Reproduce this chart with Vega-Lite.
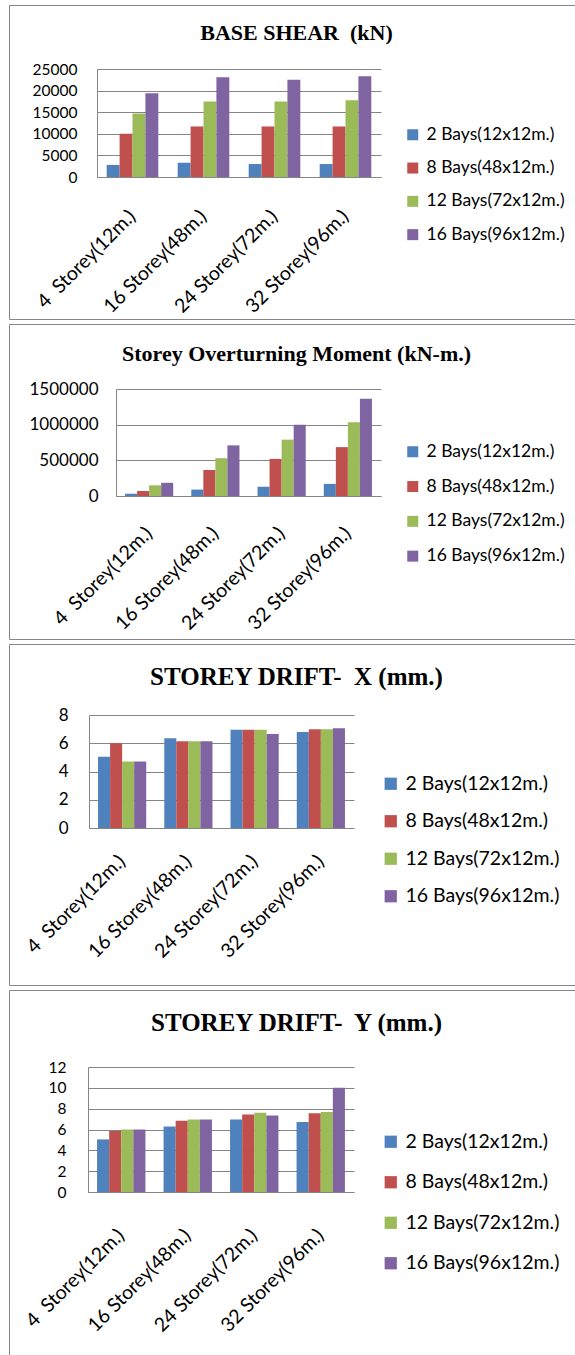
{
  "$schema": "https://vega.github.io/schema/vega-lite/v6.json",
  "padding": {"left": 8, "top": 4, "right": 0, "bottom": 0},
  "spacing": 3,
  "background": "white",
  "datasets": {
    "shear": [
      {"storey": "4\u00a0 Storey(12m.)", "bays": "2 Bays(12x12m.)", "value": 2800},
      {"storey": "4\u00a0 Storey(12m.)", "bays": "8 Bays(48x12m.)", "value": 10000},
      {"storey": "4\u00a0 Storey(12m.)", "bays": "12 Bays(72x12m.)", "value": 14700},
      {"storey": "4\u00a0 Storey(12m.)", "bays": "16 Bays(96x12m.)", "value": 19400},
      {"storey": "16 Storey(48m.)", "bays": "2 Bays(12x12m.)", "value": 3300},
      {"storey": "16 Storey(48m.)", "bays": "8 Bays(48x12m.)", "value": 11700},
      {"storey": "16 Storey(48m.)", "bays": "12 Bays(72x12m.)", "value": 17500},
      {"storey": "16 Storey(48m.)", "bays": "16 Bays(96x12m.)", "value": 23100},
      {"storey": "24 Storey(72m.)", "bays": "2 Bays(12x12m.)", "value": 3000},
      {"storey": "24 Storey(72m.)", "bays": "8 Bays(48x12m.)", "value": 11700},
      {"storey": "24 Storey(72m.)", "bays": "12 Bays(72x12m.)", "value": 17500},
      {"storey": "24 Storey(72m.)", "bays": "16 Bays(96x12m.)", "value": 22500},
      {"storey": "32 Storey(96m.)", "bays": "2 Bays(12x12m.)", "value": 3000},
      {"storey": "32 Storey(96m.)", "bays": "8 Bays(48x12m.)", "value": 11700},
      {"storey": "32 Storey(96m.)", "bays": "12 Bays(72x12m.)", "value": 17750},
      {"storey": "32 Storey(96m.)", "bays": "16 Bays(96x12m.)", "value": 23300}
    ],
    "moment": [
      {"storey": "4\u00a0 Storey(12m.)", "bays": "2 Bays(12x12m.)", "value": 30000},
      {"storey": "4\u00a0 Storey(12m.)", "bays": "8 Bays(48x12m.)", "value": 70000},
      {"storey": "4\u00a0 Storey(12m.)", "bays": "12 Bays(72x12m.)", "value": 150000},
      {"storey": "4\u00a0 Storey(12m.)", "bays": "16 Bays(96x12m.)", "value": 185000},
      {"storey": "16 Storey(48m.)", "bays": "2 Bays(12x12m.)", "value": 90000},
      {"storey": "16 Storey(48m.)", "bays": "8 Bays(48x12m.)", "value": 365000},
      {"storey": "16 Storey(48m.)", "bays": "12 Bays(72x12m.)", "value": 530000},
      {"storey": "16 Storey(48m.)", "bays": "16 Bays(96x12m.)", "value": 710000},
      {"storey": "24 Storey(72m.)", "bays": "2 Bays(12x12m.)", "value": 130000},
      {"storey": "24 Storey(72m.)", "bays": "8 Bays(48x12m.)", "value": 520000},
      {"storey": "24 Storey(72m.)", "bays": "12 Bays(72x12m.)", "value": 790000},
      {"storey": "24 Storey(72m.)", "bays": "16 Bays(96x12m.)", "value": 1000000},
      {"storey": "32 Storey(96m.)", "bays": "2 Bays(12x12m.)", "value": 170000},
      {"storey": "32 Storey(96m.)", "bays": "8 Bays(48x12m.)", "value": 685000},
      {"storey": "32 Storey(96m.)", "bays": "12 Bays(72x12m.)", "value": 1035000},
      {"storey": "32 Storey(96m.)", "bays": "16 Bays(96x12m.)", "value": 1365000}
    ],
    "driftx": [
      {"storey": "4\u00a0 Storey(12m.)", "bays": "2 Bays(12x12m.)", "value": 5.05},
      {"storey": "4\u00a0 Storey(12m.)", "bays": "8 Bays(48x12m.)", "value": 6.0},
      {"storey": "4\u00a0 Storey(12m.)", "bays": "12 Bays(72x12m.)", "value": 4.7},
      {"storey": "4\u00a0 Storey(12m.)", "bays": "16 Bays(96x12m.)", "value": 4.7},
      {"storey": "16 Storey(48m.)", "bays": "2 Bays(12x12m.)", "value": 6.35},
      {"storey": "16 Storey(48m.)", "bays": "8 Bays(48x12m.)", "value": 6.15},
      {"storey": "16 Storey(48m.)", "bays": "12 Bays(72x12m.)", "value": 6.15},
      {"storey": "16 Storey(48m.)", "bays": "16 Bays(96x12m.)", "value": 6.15},
      {"storey": "24 Storey(72m.)", "bays": "2 Bays(12x12m.)", "value": 6.95},
      {"storey": "24 Storey(72m.)", "bays": "8 Bays(48x12m.)", "value": 6.95},
      {"storey": "24 Storey(72m.)", "bays": "12 Bays(72x12m.)", "value": 6.95},
      {"storey": "24 Storey(72m.)", "bays": "16 Bays(96x12m.)", "value": 6.65},
      {"storey": "32 Storey(96m.)", "bays": "2 Bays(12x12m.)", "value": 6.8},
      {"storey": "32 Storey(96m.)", "bays": "8 Bays(48x12m.)", "value": 7.0},
      {"storey": "32 Storey(96m.)", "bays": "12 Bays(72x12m.)", "value": 7.0},
      {"storey": "32 Storey(96m.)", "bays": "16 Bays(96x12m.)", "value": 7.07}
    ],
    "drifty": [
      {"storey": "4\u00a0 Storey(12m.)", "bays": "2 Bays(12x12m.)", "value": 5.05},
      {"storey": "4\u00a0 Storey(12m.)", "bays": "8 Bays(48x12m.)", "value": 5.85},
      {"storey": "4\u00a0 Storey(12m.)", "bays": "12 Bays(72x12m.)", "value": 6.0},
      {"storey": "4\u00a0 Storey(12m.)", "bays": "16 Bays(96x12m.)", "value": 6.0},
      {"storey": "16 Storey(48m.)", "bays": "2 Bays(12x12m.)", "value": 6.3},
      {"storey": "16 Storey(48m.)", "bays": "8 Bays(48x12m.)", "value": 6.85},
      {"storey": "16 Storey(48m.)", "bays": "12 Bays(72x12m.)", "value": 6.95},
      {"storey": "16 Storey(48m.)", "bays": "16 Bays(96x12m.)", "value": 6.95},
      {"storey": "24 Storey(72m.)", "bays": "2 Bays(12x12m.)", "value": 6.95},
      {"storey": "24 Storey(72m.)", "bays": "8 Bays(48x12m.)", "value": 7.45},
      {"storey": "24 Storey(72m.)", "bays": "12 Bays(72x12m.)", "value": 7.6},
      {"storey": "24 Storey(72m.)", "bays": "16 Bays(96x12m.)", "value": 7.35},
      {"storey": "32 Storey(96m.)", "bays": "2 Bays(12x12m.)", "value": 6.72},
      {"storey": "32 Storey(96m.)", "bays": "8 Bays(48x12m.)", "value": 7.55},
      {"storey": "32 Storey(96m.)", "bays": "12 Bays(72x12m.)", "value": 7.68},
      {"storey": "32 Storey(96m.)", "bays": "16 Bays(96x12m.)", "value": 10.0}
    ]
  },
  "vconcat": [
    {
      "width": 575, "height": 314,
      "data": {"name": "shear"},
      "title": {"text": "BASE SHEAR\u00a0 (kN)", "fontSize": 22, "offset": -40},
      "mark": {"type": "bar"},
      "encoding": {
        "x": {"field": "storey", "type": "nominal", "sort": null,
          "scale": {"range": [88, 372], "paddingInner": 0.2727, "paddingOuter": 0.1364},
          "axis": {"offset": -142, "labelFontSize": 19.5, "labelPadding": 36}},
        "xOffset": {"field": "bays", "type": "nominal", "scale": {"domain": ["2 Bays(12x12m.)", "8 Bays(48x12m.)", "12 Bays(72x12m.)", "16 Bays(96x12m.)"]}},
        "y": {"field": "value", "type": "quantitative",
          "scale": {"domain": [0, 25000], "range": [172, 64], "nice": false, "zero": true},
          "axis": {"values": [0, 5000, 10000, 15000, 20000, 25000], "format": "d", "offset": -88, "labelFontSize": 15.5, "labelPadding": 20}},
        "color": {"field": "bays", "type": "nominal",
          "scale": {"domain": ["2 Bays(12x12m.)", "8 Bays(48x12m.)", "12 Bays(72x12m.)", "16 Bays(96x12m.)"], "range": ["#4F81BD", "#C0504D", "#9BBB59", "#8064A2"]},
          "legend": {"legendX": 395, "legendY": 121, "labelFontSize": 17.5, "rowPadding": 14.3, "symbolSize": 121}}
      }
    },
    {
      "width": 575, "height": 315,
      "data": {"name": "moment"},
      "title": {"text": "Storey Overturning Moment (kN-m.)", "fontSize": 22, "offset": -42},
      "mark": {"type": "bar"},
      "encoding": {
        "x": {"field": "storey", "type": "nominal", "sort": null,
          "scale": {"range": [107, 372], "paddingInner": 0.2727, "paddingOuter": 0.1364},
          "axis": {"offset": -143, "labelFontSize": 19.5, "labelPadding": 34}},
        "xOffset": {"field": "bays", "type": "nominal", "scale": {"domain": ["2 Bays(12x12m.)", "8 Bays(48x12m.)", "12 Bays(72x12m.)", "16 Bays(96x12m.)"]}},
        "y": {"field": "value", "type": "quantitative",
          "scale": {"domain": [0, 1500000], "range": [172, 65], "nice": false, "zero": true},
          "axis": {"values": [0, 500000, 1000000, 1500000], "format": "d", "offset": -107, "labelFontSize": 17, "labelPadding": 18}},
        "color": {"field": "bays", "type": "nominal",
          "scale": {"domain": ["2 Bays(12x12m.)", "8 Bays(48x12m.)", "12 Bays(72x12m.)", "16 Bays(96x12m.)"], "range": ["#4F81BD", "#C0504D", "#9BBB59", "#8064A2"]},
          "legend": {"legendX": 395, "legendY": 119, "labelFontSize": 17.5, "rowPadding": 15.8, "symbolSize": 121}}
      }
    },
    {
      "width": 575, "height": 341,
      "data": {"name": "driftx"},
      "title": {"text": "STOREY DRIFT-\u00a0 X (mm.)", "fontSize": 25, "offset": -46},
      "mark": {"type": "bar"},
      "encoding": {
        "x": {"field": "storey", "type": "nominal", "sort": null,
          "scale": {"range": [80, 345], "paddingInner": 0.2727, "paddingOuter": 0.1364},
          "axis": {"offset": -157, "labelFontSize": 19.5, "labelPadding": 30}},
        "xOffset": {"field": "bays", "type": "nominal", "scale": {"domain": ["2 Bays(12x12m.)", "8 Bays(48x12m.)", "12 Bays(72x12m.)", "16 Bays(96x12m.)"]}},
        "y": {"field": "value", "type": "quantitative",
          "scale": {"domain": [0, 8], "range": [184, 71], "nice": false, "zero": true},
          "axis": {"values": [0, 2, 4, 6, 8], "format": "d", "offset": -80, "labelFontSize": 17, "labelPadding": 21}},
        "color": {"field": "bays", "type": "nominal",
          "scale": {"domain": ["2 Bays(12x12m.)", "8 Bays(48x12m.)", "12 Bays(72x12m.)", "16 Bays(96x12m.)"], "range": ["#4F81BD", "#C0504D", "#9BBB59", "#8064A2"]},
          "legend": {"legendX": 372, "legendY": 130, "labelFontSize": 19.5, "rowPadding": 16.5, "symbolSize": 150}}
      }
    },
    {
      "width": 575, "height": 380,
      "data": {"name": "drifty"},
      "title": {"text": "STOREY DRIFT-\u00a0 Y (mm.)", "fontSize": 25, "offset": -46},
      "mark": {"type": "bar"},
      "encoding": {
        "x": {"field": "storey", "type": "nominal", "sort": null,
          "scale": {"range": [79, 345], "paddingInner": 0.2727, "paddingOuter": 0.1364},
          "axis": {"offset": -178, "labelFontSize": 19.5, "labelPadding": 40}},
        "xOffset": {"field": "bays", "type": "nominal", "scale": {"domain": ["2 Bays(12x12m.)", "8 Bays(48x12m.)", "12 Bays(72x12m.)", "16 Bays(96x12m.)"]}},
        "y": {"field": "value", "type": "quantitative",
          "scale": {"domain": [0, 12], "range": [202, 77], "nice": false, "zero": true},
          "axis": {"values": [0, 2, 4, 6, 8, 10, 12], "format": "d", "offset": -79, "labelFontSize": 15.5, "labelPadding": 22}},
        "color": {"field": "bays", "type": "nominal",
          "scale": {"domain": ["2 Bays(12x12m.)", "8 Bays(48x12m.)", "12 Bays(72x12m.)", "16 Bays(96x12m.)"], "range": ["#4F81BD", "#C0504D", "#9BBB59", "#8064A2"]},
          "legend": {"legendX": 372, "legendY": 142, "labelFontSize": 19.5, "rowPadding": 19.5, "symbolSize": 150}}
      }
    }
  ],
  "resolve": {
    "scale": {"color": "independent", "xOffset": "independent"},
    "legend": {"color": "independent"}
  },
  "config": {
    "view": {"stroke": "#868686", "strokeWidth": 1},
    "font": "Lato",
    "title": {"font": "Liberation Serif", "fontWeight": "bold", "color": "#000000", "anchor": "middle", "frame": "group", "baseline": "middle"},
    "axis": {"title": null, "ticks": false, "domainColor": "#868686", "gridColor": "#868686", "gridWidth": 1, "labelColor": "#000000", "labelFont": "Lato"},
    "axisX": {"labelAngle": -45, "labelAlign": "right", "labelBaseline": "middle", "labelOverlap": false, "labelFlush": false, "labelLimit": 0, "grid": false},
    "axisY": {"grid": true},
    "legend": {"orient": "none", "title": null, "symbolType": "square", "symbolStrokeWidth": 0, "labelFont": "Lato", "labelColor": "#000000", "labelLimit": 0, "labelOffset": 5, "padding": 0},
    "bar": {"stroke": null}
  }
}
